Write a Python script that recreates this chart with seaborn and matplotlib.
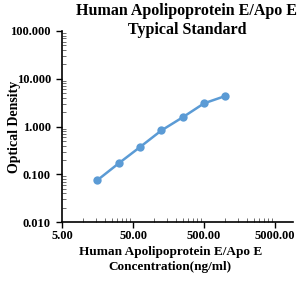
import numpy as np
import pandas as pd
import matplotlib
matplotlib.use('Agg')
import matplotlib.pyplot as plt
from matplotlib.ticker import FixedLocator, FixedFormatter, NullFormatter
import seaborn as sns

sns.set_style('white')
plt.rcParams['font.family'] = ['Liberation Serif', 'DejaVu Serif']
plt.rcParams['font.weight'] = 'bold'
plt.rcParams['text.color'] = 'black'
plt.rcParams['axes.labelcolor'] = 'black'

# standard curve
conc = [15.63, 31.25, 62.5, 125, 250, 500, 1000]
od = [0.075, 0.169, 0.371, 0.826, 1.56, 3.06, 4.36]

x_ticks = [5, 50, 500, 5000]
x_labels = ['5.00', '50.00', '500.00', '5000.00']
y_ticks = [0.01, 0.1, 1, 10, 100]
y_labels = ['0.010', '0.100', '1.000', '10.000', '100.000']

df = pd.DataFrame({'conc': conc, 'od': od})

fig = plt.figure(figsize=(3.0, 2.84), dpi=100)
ax = fig.add_axes([0.207, 0.218, 0.77, 0.673])

sns.lineplot(data=df, x='conc', y='od', ax=ax, color='#5B9BD5',
             marker='o', markersize=6, markeredgewidth=0, linewidth=1.8)

ax.set_xscale('log')
ax.set_yscale('log')
ax.set_xlim(5, 8970)
ax.set_ylim(0.01, 100)

ax.xaxis.set_major_locator(FixedLocator(x_ticks))
ax.xaxis.set_major_formatter(FixedFormatter(x_labels))
x_minor = [5 * k * 10 ** n for n in range(4) for k in range(2, 10)]
ax.xaxis.set_minor_locator(FixedLocator(x_minor))
ax.xaxis.set_minor_formatter(NullFormatter())

ax.yaxis.set_major_locator(FixedLocator(y_ticks))
ax.yaxis.set_major_formatter(FixedFormatter(y_labels))
y_minor = [k * 10.0 ** n for n in range(-2, 2) for k in range(2, 10)]
ax.yaxis.set_minor_locator(FixedLocator(y_minor))
ax.yaxis.set_minor_formatter(NullFormatter())

ax.tick_params(axis='both', which='major', direction='out', length=4, width=1,
               labelsize=9, colors='black', labelcolor='black', pad=2)
ax.tick_params(axis='y', which='major', pad=4)
ax.tick_params(axis='both', which='minor', direction='in', length=3, width=0.6,
               colors='#555555')
ax.tick_params(axis='both', which='both', bottom=True, left=True)
for lab in ax.get_xticklabels() + ax.get_yticklabels():
    lab.set_fontweight('bold')

for side in ['top', 'right']:
    ax.spines[side].set_visible(False)
for side in ['left', 'bottom']:
    ax.spines[side].set_color('black')
    ax.spines[side].set_linewidth(1.2)

ax.set_xlabel('Human Apolipoprotein E/Apo E\nConcentration(ng/ml)',
              fontsize=9.5, fontweight='bold', linespacing=1.3, va='top',
              color='black')
ax.xaxis.set_label_coords(0.468, -0.125)
ax.set_ylabel('Optical Density', fontsize=10, fontweight='bold', va='center',
              color='black')
ax.yaxis.set_label_coords(-0.208, 0.5)

fig.text(0.623, 0.928, 'Human Apolipoprotein E/Apo E\nTypical Standard',
         fontsize=11.5, fontweight='bold', ha='center', va='center',
         linespacing=1.2, color='black')

fig.savefig('out.png', dpi=100)
